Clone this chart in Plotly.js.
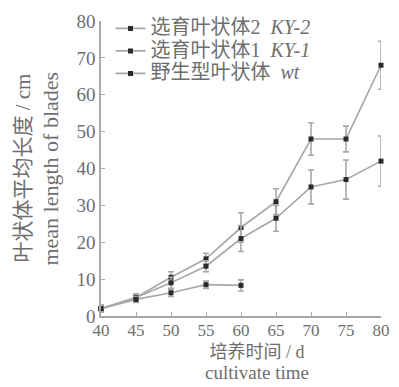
<!DOCTYPE html>
<html><head><meta charset="utf-8">
<script src="https://cdn.plot.ly/plotly-3.0.1.min.js"></script>
<style>html,body{margin:0;padding:0;background:#fff}#plot{width:399px;height:387px}</style>
</head><body><div id="plot"></div>
<script>
const days = [40, 45, 50, 55, 60, 65, 70, 75, 80];
const ky2 = [2, 5, 10.5, 15.5, 24, 31, 48, 48, 68];
const ky2Err = [1, 1, 1.5, 1.5, 4, 3.5, 4.4, 3.5, 6.5];
const ky1 = [2, 5, 9, 13.5, 21, 26.5, 35, 37, 42];
const ky1Err = [1, 1, 1.5, 1.5, 3.5, 3.5, 4.6, 5.3, 6.8];
const wtDays = [40, 45, 50, 55, 60];
const wt = [2, 4.5, 6.3, 8.5, 8.3];
const wtErr = [0.8, 0.8, 1, 1, 1.5];
const names = ['选育叶状体2', '选育叶状体1', '野生型叶状体'];
const codes = ['KY-2', 'KY-1', 'wt'];
const yTicks = [0, 10, 20, 30, 40, 50, 60, 70, 80];

const FONT = 'Liberation Serif, Noto Sans CJK SC, serif';
const TXT = '#6e6e6e';
const LINE = '#a8a8a8';

function label(i) {
  return '<span style="font-size:20px">' + names[i] + '&nbsp;&nbsp;<i>' + codes[i] + '</i></span>';
}
function tr(x, y, e, i) {
  return {
    x: x, y: y, name: label(i), type: 'scatter', mode: 'lines+markers',
    line: {color: LINE, width: 1.7},
    marker: {color: '#2a2a2a', size: 5, symbol: 'square'},
    error_y: {type: 'data', array: e, visible: true, color: LINE, thickness: 1.6, width: 3},
    cliponaxis: false
  };
}
const data = [tr(days, ky2, ky2Err, 0), tr(days, ky1, ky1Err, 1), tr(wtDays, wt, wtErr, 2)];

const layout = {
  width: 399, height: 387,
  margin: {l: 101, r: 18, t: 17, b: 71},
  paper_bgcolor: '#fff', plot_bgcolor: '#fff',
  font: {family: FONT, size: 18, color: TXT},
  showlegend: true,
  legend: {x: 0.034, y: 1.03, xanchor: 'left', yanchor: 'top', bgcolor: 'rgba(0,0,0,0)',
           font: {family: FONT, size: 15, color: TXT}, tracegroupgap: 0, itemwidth: 30},
  xaxis: {range: [40, 80], tickvals: days, ticks: 'inside', ticklen: 4, tickcolor: LINE,
          showline: true, linecolor: LINE, linewidth: 1.8, showgrid: false, zeroline: false,
          ticklabelstandoff: -2,
          tickfont: {family: FONT, size: 17, color: TXT}},
  yaxis: {range: [0, 80], tickvals: yTicks, ticks: 'inside', ticklen: 4, tickcolor: LINE,
          showline: true, linecolor: LINE, linewidth: 1.8, showgrid: false, zeroline: false,
          tickfont: {family: FONT, size: 19, color: TXT}},
  annotations: [
    {text: '<span style="font-size:18px">培养时间 / d</span><br><span style="font-size:19px">cultivate time</span>',
     xref: 'paper', yref: 'paper', x: 0.557, y: -0.234, xanchor: 'center', yanchor: 'bottom', showarrow: false,
     font: {family: FONT, size: 16, color: TXT}},
    {text: '叶状体平均长度 / cm', xref: 'paper', yref: 'paper', x: -0.282, y: 0.5, xanchor: 'center', yanchor: 'middle', textangle: -90, showarrow: false, font: {family: FONT, size: 21, color: TXT}},
    {text: 'mean length of blades', xref: 'paper', yref: 'paper', x: -0.182, y: 0.5, xanchor: 'center', yanchor: 'middle', textangle: -90, showarrow: false, font: {family: FONT, size: 22, color: TXT}}
  ]
};
Plotly.newPlot('plot', data, layout, {displayModeBar: false, staticPlot: true});
</script></body></html>
